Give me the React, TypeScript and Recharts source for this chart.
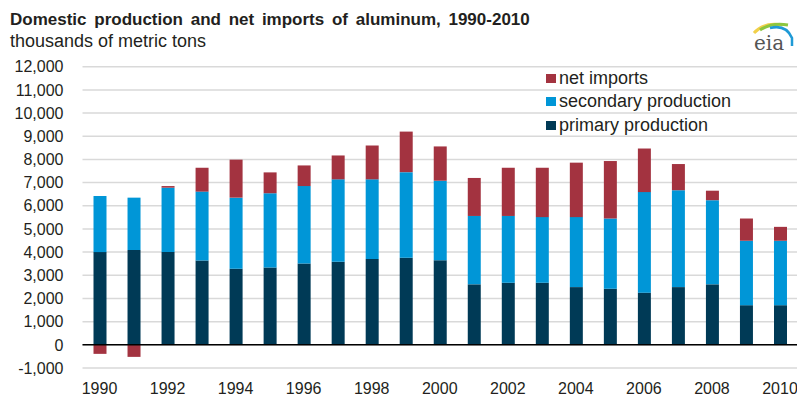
import { BarChart, Bar, XAxis, YAxis, CartesianGrid, ReferenceLine } from 'recharts';

// thousands of metric tons
const years = [
  1990, 1991, 1992, 1993, 1994, 1995, 1996, 1997, 1998, 1999, 2000,
  2001, 2002, 2003, 2004, 2005, 2006, 2007, 2008, 2009, 2010,
];
const primaryProduction = [
  4000, 4090, 4000, 3640, 3280, 3340, 3510, 3580, 3700, 3760, 3650,
  2610, 2680, 2680, 2490, 2420, 2250, 2490, 2610, 1710, 1710,
];
const secondaryProduction = [
  2420, 2260, 2780, 2970, 3070, 3200, 3340, 3560, 3440, 3690, 3430,
  2950, 2880, 2830, 3020, 3030, 4340, 4180, 3630, 2780, 2780,
];
const netImports = [
  -390, -520, 70, 1030, 1640, 900, 890, 1030, 1460, 1750, 1480,
  1640, 2080, 2130, 2350, 2480, 1880, 1130, 410, 960, 600,
];
const yTicks = [-1000, 0, 1000, 2000, 3000, 4000, 5000, 6000, 7000, 8000, 9000, 10000, 11000, 12000];

const PRIMARY_COLOR = '#003a56';
const SECONDARY_COLOR = '#0096d7';
const IMPORTS_COLOR = '#a33340';
const TEXT_COLOR = '#231f20';
const FONT = 'Arial, "Liberation Sans", sans-serif';

const data = years.map((year, i) => ({
  year,
  primary: primaryProduction[i],
  secondary: secondaryProduction[i],
  imports: netImports[i],
}));

const legendItems = [
  { label: 'net imports', color: IMPORTS_COLOR },
  { label: 'secondary production', color: SECONDARY_COLOR },
  { label: 'primary production', color: PRIMARY_COLOR },
];

// legend sits over the gridlines, top right of the plot
function LegendBox() {
  return (
    <div style={{ position: 'absolute', left: 546, top: 66.5, fontFamily: FONT, fontSize: 18, color: TEXT_COLOR, whiteSpace: 'nowrap' }}>
      {legendItems.map(item => (
        <div key={item.label} style={{ display: 'flex', alignItems: 'center', height: 23.5 }}>
          <span style={{ display: 'inline-block', width: 10, height: 9, background: item.color, marginRight: 3 }} />
          <span style={{ lineHeight: '23.5px' }}>{item.label}</span>
        </div>
      ))}
    </div>
  );
}

function EiaLogo() {
  return (
    <svg width={50} height={40} style={{ position: 'absolute', left: 748, top: 16 }}>
      <path d="M6 17 Q16 6 34 9" stroke="#f2d04a" strokeWidth={3} fill="none" />
      <path d="M12 14 Q24 6 40 9" stroke="#8cc63f" strokeWidth={3} fill="none" />
      <path d="M22 12 Q38 8 44 22 L44 30" stroke="#1f9ad6" strokeWidth={2.5} fill="none" />
      <text x={6} y={34} fontFamily='"DejaVu Serif", serif' fontSize={20} fill="#555">eia</text>
    </svg>
  );
}

export default function App() {
  return (
    <div style={{ position: 'absolute', left: 0, top: 0, width: 797, height: 401, background: '#fff', overflow: 'hidden' }}>
      <div style={{ position: 'absolute', left: 10, top: 10, fontFamily: FONT, fontSize: 17, fontWeight: 'bold', color: TEXT_COLOR, wordSpacing: 3, whiteSpace: 'nowrap' }}>
        Domestic production and net imports of aluminum, 1990-2010
      </div>
      <div style={{ position: 'absolute', left: 10, top: 31, fontFamily: FONT, fontSize: 18, color: TEXT_COLOR, whiteSpace: 'nowrap' }}>
        thousands of metric tons
      </div>
      <EiaLogo />
      <BarChart
        width={797}
        height={401}
        data={data}
        stackOffset="sign"
        margin={{ top: 66.7, right: 0, bottom: 0, left: 0 }}
        style={{ position: 'absolute', left: 0, top: 0 }}
      >
        <CartesianGrid vertical={false} stroke="#d9d9d9" strokeWidth={1.5} />
        <XAxis
          dataKey="year"
          interval={1}
          height={33}
          tickSize={0}
          tickMargin={15}
          axisLine={false}
          tickLine={false}
          tick={{ fontSize: 16, fill: TEXT_COLOR, fontFamily: FONT }}
        />
        <YAxis
          domain={[-1000, 12000]}
          ticks={yTicks}
          interval={0}
          width={82.5}
          tickSize={0}
          tickMargin={19}
          axisLine={false}
          tickLine={false}
          tickFormatter={(v: number) => v.toLocaleString('en-US')}
          tick={{ fontSize: 16, fill: TEXT_COLOR, fontFamily: FONT }}
        />
        <ReferenceLine y={0} stroke="#000" strokeWidth={1.5} />
        <Bar dataKey="primary" stackId="a" fill={PRIMARY_COLOR} barSize={13} isAnimationActive={false} />
        <Bar dataKey="secondary" stackId="a" fill={SECONDARY_COLOR} barSize={13} isAnimationActive={false} />
        <Bar dataKey="imports" stackId="a" fill={IMPORTS_COLOR} barSize={13} isAnimationActive={false} />
      </BarChart>
      <LegendBox />
    </div>
  );
}
